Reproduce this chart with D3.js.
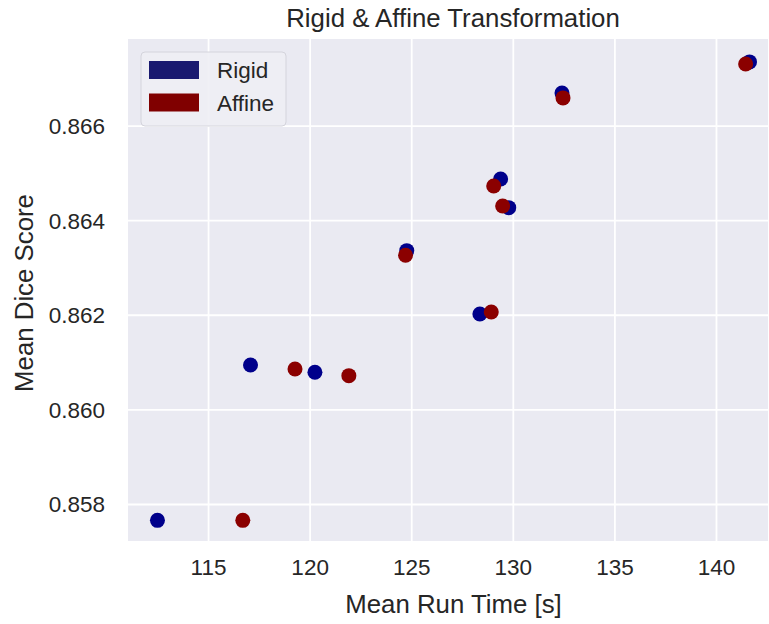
<!DOCTYPE html>
<html><head><meta charset="utf-8">
<script src="https://cdn.jsdelivr.net/npm/d3@7"></script>
<style>body{margin:0;background:#fff}svg{display:block}text{font-family:"Liberation Sans",Arial,sans-serif;fill:#262626}</style>
</head><body>
<svg id="c" width="769" height="624"></svg>
<script>
const seriesNames = ["Rigid", "Affine"];
const rigidX = [112.51, 117.09, 120.26, 124.78, 128.38, 129.40, 129.80, 132.42, 141.65];
const rigidY = [0.857655, 0.860939, 0.860784, 0.863355, 0.862017, 0.864871, 0.864264, 0.866689, 0.867345];
const affineX = [116.71, 119.28, 121.93, 124.72, 128.94, 129.06, 129.50, 132.47, 141.46];
const affineY = [0.857655, 0.860854, 0.860713, 0.863258, 0.862059, 0.864723, 0.864300, 0.866584, 0.867302];
const xTicks = [115, 120, 125, 130, 135, 140];
const yTicks = [0.858, 0.860, 0.862, 0.864, 0.866];
const pointColors = ["#00008b", "#8b0000"];
const patchColors = ["#191970", "#800000"];

const svg = d3.select("#c");
const L = 128, R = 768, T = 39, B = 541;
const x = d3.scaleLinear().domain([111.06, 142.56]).range([L, R]);
const y = d3.scaleLinear().domain([0.857218, 0.867829]).range([B, T]);

svg.append("rect").attr("x", L).attr("y", T).attr("width", R - L).attr("height", B - T).attr("fill", "#eaeaf2");

const gx = svg.append("g").attr("transform", `translate(0,${B})`)
  .call(d3.axisBottom(x).tickValues(xTicks).tickSize(-(B - T)).tickPadding(18).tickFormat(d3.format("d")));
const gy = svg.append("g").attr("transform", `translate(${L},0)`)
  .call(d3.axisLeft(y).tickValues(yTicks).tickSize(-(R - L)).tickPadding(23).tickFormat(d3.format(".3f")));
[gx, gy].forEach(g => {
  g.select(".domain").remove();
  g.selectAll(".tick line").attr("stroke", "#fff").attr("stroke-width", 1.8);
  g.selectAll(".tick text").attr("fill", "#262626").style("font-size", "22.5px").style("font-family", '"Liberation Sans",Arial,sans-serif');
});
gx.selectAll(".tick text").attr("dy", "0.71em");
gy.selectAll(".tick text").attr("dy", "0.35em");

const series = [
  {name: seriesNames[0], xs: rigidX, ys: rigidY, c: pointColors[0]},
  {name: seriesNames[1], xs: affineX, ys: affineY, c: pointColors[1]}
];
series.forEach(s => {
  svg.append("g").selectAll("circle").data(s.xs.map((v, i) => [v, s.ys[i]])).join("circle")
    .attr("cx", d => x(d[0])).attr("cy", d => y(d[1])).attr("r", 7.5).attr("fill", s.c);
});

svg.append("text").attr("x", 453).attr("y", 27).attr("text-anchor", "middle").style("font-size", "25.8px").text("Rigid & Affine Transformation");
svg.append("text").attr("x", 453.5).attr("y", 613).attr("text-anchor", "middle").style("font-size", "25.8px").text("Mean Run Time [s]");
svg.append("text").attr("transform", `translate(33,${(T + B) / 2 + 3}) rotate(-90)`).attr("text-anchor", "middle").style("font-size", "25.8px").text("Mean Dice Score");

const lg = svg.append("g");
lg.append("rect").attr("x", 141).attr("y", 52).attr("width", 145).attr("height", 74).attr("rx", 4)
  .attr("fill", "#eeeef4").attr("fill-opacity", 0.9).attr("stroke", "#d4d4dc").attr("stroke-width", 1);
seriesNames.forEach((n, i) => {
  lg.append("rect").attr("x", 149).attr("y", 61 + i * 32.5).attr("width", 50).attr("height", 18).attr("fill", patchColors[i]);
  lg.append("text").attr("x", 217).attr("y", 77.5 + i * 33.5).style("font-size", "22.5px").text(n);
});
</script>
</body></html>
